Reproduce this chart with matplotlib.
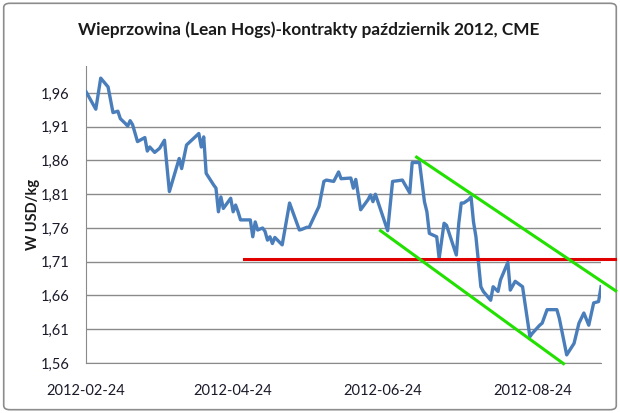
import matplotlib
matplotlib.use('Agg')
import matplotlib.pyplot as plt
from matplotlib.patches import FancyBboxPatch
import pandas as pd

# ---- data ----
dates = [
    '2012-02-24', '2012-02-28', '2012-03-01', '2012-03-04', '2012-03-06', '2012-03-08',
    '2012-03-09', '2012-03-11', '2012-03-12', '2012-03-13', '2012-03-14', '2012-03-16',
    '2012-03-19', '2012-03-20', '2012-03-21', '2012-03-23', '2012-03-25', '2012-03-27',
    '2012-03-29', '2012-04-02', '2012-04-03', '2012-04-05', '2012-04-10', '2012-04-11',
    '2012-04-12', '2012-04-13', '2012-04-16', '2012-04-17', '2012-04-18', '2012-04-19',
    '2012-04-20', '2012-04-23', '2012-04-24', '2012-04-25', '2012-04-26', '2012-04-27',
    '2012-05-01', '2012-05-02', '2012-05-03', '2012-05-04', '2012-05-06', '2012-05-07',
    '2012-05-08', '2012-05-09', '2012-05-10', '2012-05-11', '2012-05-14', '2012-05-17',
    '2012-05-21', '2012-05-22', '2012-05-24', '2012-05-25', '2012-05-29', '2012-05-31',
    '2012-06-01', '2012-06-04', '2012-06-06', '2012-06-07', '2012-06-11', '2012-06-12',
    '2012-06-13', '2012-06-15', '2012-06-18', '2012-06-19', '2012-06-20', '2012-06-21',
    '2012-06-26', '2012-06-28', '2012-07-02', '2012-07-05', '2012-07-06', '2012-07-09',
    '2012-07-11', '2012-07-12', '2012-07-13', '2012-07-16', '2012-07-17', '2012-07-19',
    '2012-07-20', '2012-07-24', '2012-07-25', '2012-07-26', '2012-07-27', '2012-07-29',
    '2012-07-30', '2012-07-31', '2012-08-01', '2012-08-03', '2012-08-04', '2012-08-07',
    '2012-08-08', '2012-08-10', '2012-08-11', '2012-08-14', '2012-08-15', '2012-08-17',
    '2012-08-20', '2012-08-23', '2012-08-24', '2012-08-27', '2012-08-28', '2012-08-30',
    '2012-09-03', '2012-09-04', '2012-09-07', '2012-09-10', '2012-09-12', '2012-09-14',
    '2012-09-16', '2012-09-18', '2012-09-20', '2012-09-21',
]
prices = [
    1.962, 1.936, 1.982, 1.969, 1.931, 1.933,
    1.922, 1.915, 1.911, 1.919, 1.913, 1.888,
    1.894, 1.874, 1.880, 1.872, 1.878, 1.890,
    1.814, 1.863, 1.848, 1.883, 1.900, 1.880,
    1.895, 1.841, 1.824, 1.819, 1.784, 1.806,
    1.789, 1.804, 1.784, 1.794, 1.784, 1.772,
    1.772, 1.747, 1.769, 1.757, 1.760, 1.755,
    1.742, 1.747, 1.737, 1.746, 1.735, 1.797,
    1.757, 1.758, 1.761, 1.761, 1.792, 1.829,
    1.831, 1.829, 1.843, 1.833, 1.834, 1.819,
    1.832, 1.787, 1.802, 1.809, 1.799, 1.810,
    1.756, 1.829, 1.831, 1.812, 1.857, 1.857,
    1.799, 1.784, 1.752, 1.747, 1.715, 1.767,
    1.764, 1.720, 1.767, 1.797, 1.797, 1.802,
    1.806, 1.769, 1.747, 1.673, 1.666, 1.653,
    1.673, 1.666, 1.683, 1.709, 1.668, 1.681,
    1.673, 1.599, 1.604, 1.616, 1.619, 1.639,
    1.639, 1.626, 1.572, 1.589, 1.619, 1.634,
    1.616, 1.649, 1.651, 1.673,
]
x_tick_dates = ['2012-02-24', '2012-04-24', '2012-06-24', '2012-08-24']
y_ticks = [1.56, 1.61, 1.66, 1.71, 1.76, 1.81, 1.86, 1.91, 1.96]

support_dates = ['2012-04-28 08:00', '2012-09-26 14:00']
support_values = [1.714, 1.714]
upper_channel_dates = ['2012-07-07 19:00', '2012-09-26 23:00']
upper_channel_values = [1.865, 1.667]
lower_channel_dates = ['2012-06-23 02:00', '2012-09-05 17:00']
lower_channel_values = [1.756, 1.559]

title = 'Wieprzowina (Lean Hogs)-kontrakty październik 2012, CME'
ylabel = 'W USD/kg'

# ---- plot ----
plt.rcParams['font.family'] = ['Lato', 'DejaVu Sans']

fig = plt.figure(figsize=(6.2, 4.13), dpi=100)
fig.patch.set_facecolor('white')

border = FancyBboxPatch((0.006, 0.008), 0.988, 0.984,
                        boxstyle='round,pad=0,rounding_size=0.01',
                        transform=fig.transFigure, facecolor='none',
                        edgecolor='#8c8c8c', linewidth=1.2, zorder=-1)
fig.patches.append(border)

ax = fig.add_axes([0.1387, 0.1211, 0.8307, 0.7191])
ax.set_facecolor('none')

d = pd.to_datetime(dates)
ax.plot(d, prices, color='#4a7ebb', linewidth=2.4, solid_joinstyle='round', zorder=3)

ax.plot(pd.to_datetime(support_dates), support_values, color='#e00000',
        linewidth=2.2, clip_on=False, zorder=4)
ax.plot(pd.to_datetime(upper_channel_dates), upper_channel_values, color='#22e000',
        linewidth=2.2, clip_on=False, zorder=4)
ax.plot(pd.to_datetime(lower_channel_dates), lower_channel_values, color='#22e000',
        linewidth=2.2, clip_on=False, zorder=4)

ax.set_xlim(pd.Timestamp('2012-02-24'), pd.Timestamp('2012-09-21'))
ax.set_ylim(1.56, 2.00)
ax.set_yticks(y_ticks)
ax.set_yticklabels([f'{v:.2f}'.replace('.', ',') for v in y_ticks])
xt = pd.to_datetime(x_tick_dates)
ax.set_xticks(xt)
ax.set_xticklabels(x_tick_dates)

ax.grid(axis='y', color='#8a8a8a', linewidth=1.0)
ax.set_axisbelow(True)
for s in ['top', 'right']:
    ax.spines[s].set_visible(False)
ax.spines['left'].set_color('#8a8a8a')
ax.spines['bottom'].set_color('#8a8a8a')
ax.tick_params(axis='both', length=0, labelsize=10.5, colors='#1a1a2a')
ax.tick_params(axis='y', pad=12)
ax.tick_params(axis='x', pad=15)

ax.set_ylabel(ylabel, fontsize=10.5, fontweight='bold', color='#1a1a1a', labelpad=0)

fig.text(0.498, 0.927, title, ha='center', va='center', fontsize=12.4,
         fontweight='bold', color='#1a1a1a')

fig.savefig('out.png', dpi=100, facecolor='white')
